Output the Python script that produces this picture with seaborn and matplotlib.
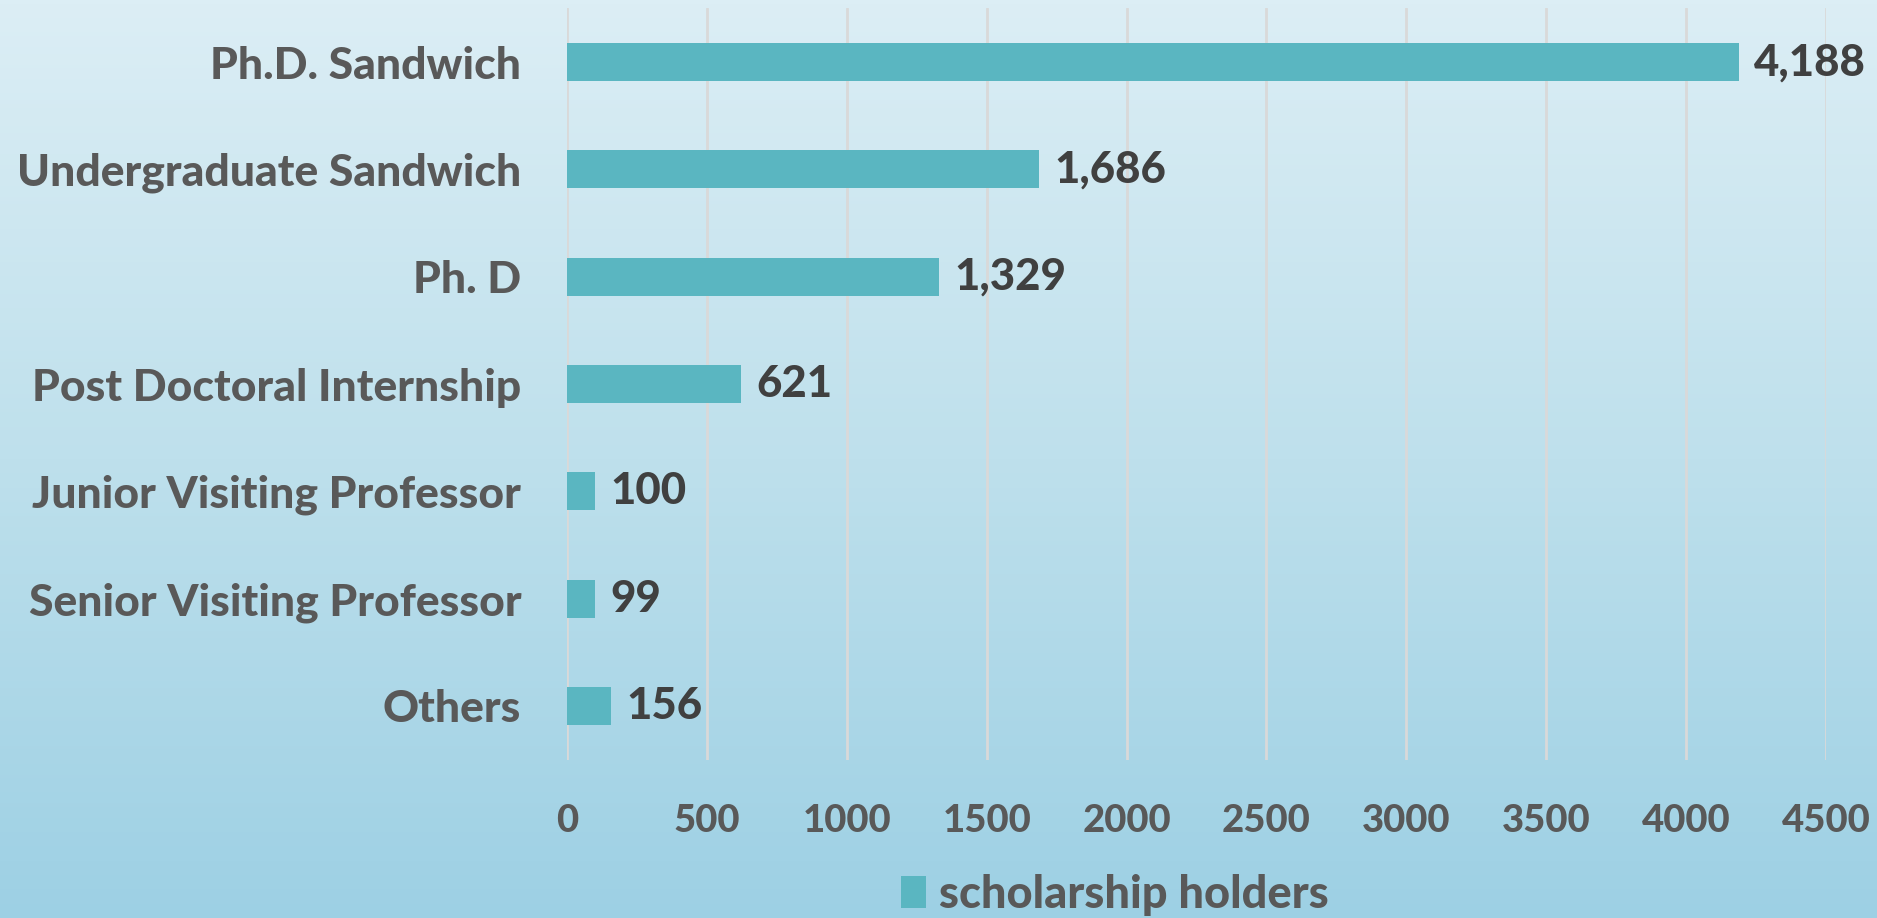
import numpy as np
import pandas as pd
import matplotlib
matplotlib.use("Agg")
import matplotlib.pyplot as plt
import seaborn as sns
from matplotlib.colors import LinearSegmentedColormap

categories = ["Ph.D. Sandwich", "Undergraduate Sandwich", "Ph. D", "Post Doctoral Internship",
              "Junior Visiting Professor", "Senior Visiting Professor", "Others"]
values = [4188, 1686, 1329, 621, 100, 99, 156]
xticks = [0, 500, 1000, 1500, 2000, 2500, 3000, 3500, 4000, 4500]
series_name = "scholarship holders"

sns.set_theme(style="white")
plt.rcParams['font.family'] = ['Lato', 'DejaVu Sans']

WEIGHT = 900
df = pd.DataFrame({"category": categories, "value": values})

W, H = 1877, 918
fig = plt.figure(figsize=(W / 100, H / 100), dpi=100)

# gradient background
bg = fig.add_axes([0, 0, 1, 1], zorder=0)
cmap = LinearSegmentedColormap.from_list("bg", ["#DCEEF5", "#BEE0EC", "#9DD0E4"])
grad = np.linspace(0, 1, 256).reshape(-1, 1)
bg.imshow(grad, aspect="auto", cmap=cmap, extent=[0, 1, 0, 1], origin="upper")
bg.set_axis_off()

bar_color = "#5AB6C1"
ax = fig.add_axes([567 / W, (H - 759.5) / H, (1826 - 567) / W, 751 / H], zorder=1)
ax.patch.set_alpha(0)
sns.barplot(data=df, x="value", y="category", orient="h", color=bar_color,
            width=0.355, ax=ax, saturation=1, label=series_name, linewidth=0)

ax.set_xlim(0, 4500)
ax.set_xticks(xticks)
ax.set_xticklabels([str(t) for t in xticks])
ax.xaxis.grid(True, color="#D9D9D9", linewidth=2)
ax.set_axisbelow(True)
for s in ax.spines.values():
    s.set_visible(False)
ax.tick_params(axis="x", length=0, pad=32, labelsize=27.5, labelcolor="#595959")
ax.tick_params(axis="y", length=0, pad=33, labelsize=32, labelcolor="#595959")
for lab in ax.get_xticklabels() + ax.get_yticklabels():
    lab.set_fontweight(WEIGHT)
ax.set_xlabel("")
ax.set_ylabel("")

for i, v in enumerate(values):
    ax.annotate(f"{v:,}", xy=(v, i), xytext=(11, 0), textcoords="offset points",
                va="center", ha="left", fontsize=31.5, fontweight=WEIGHT, color="#404040")

leg = ax.legend(loc="center", bbox_to_anchor=(0.594, (H - 895) / H), bbox_transform=fig.transFigure,
                frameon=False, fontsize=32.5, handlelength=0.55, handleheight=0.7, handletextpad=0.3)
for t in leg.get_texts():
    t.set_color("#595959")
    t.set_fontweight(WEIGHT)

fig.savefig("out.png", dpi=100)
